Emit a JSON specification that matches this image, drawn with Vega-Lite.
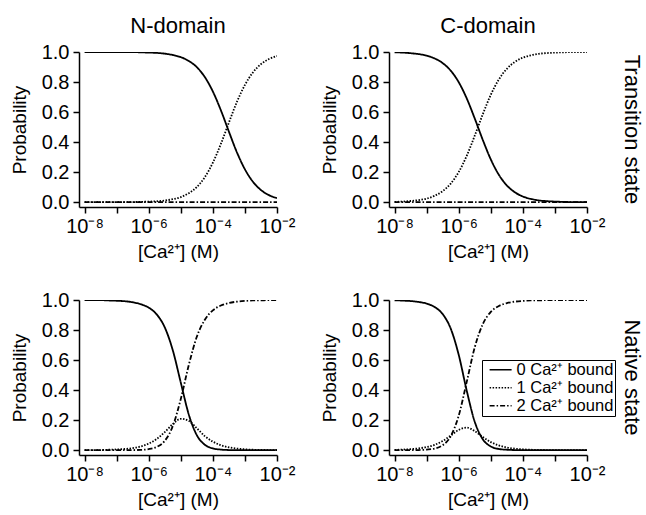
{
  "$schema": "https://vega.github.io/schema/vega-lite/v6.json",
  "background": "white",
  "padding": {"left": 10, "top": 15, "right": 2, "bottom": 2},
  "bounds": "flush",
  "spacing": {"row": 93, "column": 112},
  "data": {"values": [
    {"s":"Transition state","d":"N-domain","k":"0","x":1e-8,"p":1.000},
    {"s":"Transition state","d":"N-domain","k":"0","x":1.778e-8,"p":1.000},
    {"s":"Transition state","d":"N-domain","k":"0","x":3.162e-8,"p":1.000},
    {"s":"Transition state","d":"N-domain","k":"0","x":5.623e-8,"p":1.000},
    {"s":"Transition state","d":"N-domain","k":"0","x":1e-7,"p":1.000},
    {"s":"Transition state","d":"N-domain","k":"0","x":1.778e-7,"p":0.999},
    {"s":"Transition state","d":"N-domain","k":"0","x":3.162e-7,"p":0.999},
    {"s":"Transition state","d":"N-domain","k":"0","x":5.623e-7,"p":0.998},
    {"s":"Transition state","d":"N-domain","k":"0","x":1e-6,"p":0.996},
    {"s":"Transition state","d":"N-domain","k":"0","x":1.778e-6,"p":0.994},
    {"s":"Transition state","d":"N-domain","k":"0","x":3.162e-6,"p":0.989},
    {"s":"Transition state","d":"N-domain","k":"0","x":5.623e-6,"p":0.980},
    {"s":"Transition state","d":"N-domain","k":"0","x":1e-5,"p":0.966},
    {"s":"Transition state","d":"N-domain","k":"0","x":1.778e-5,"p":0.940},
    {"s":"Transition state","d":"N-domain","k":"0","x":3.162e-5,"p":0.899},
    {"s":"Transition state","d":"N-domain","k":"0","x":5.623e-5,"p":0.833},
    {"s":"Transition state","d":"N-domain","k":"0","x":1e-4,"p":0.737},
    {"s":"Transition state","d":"N-domain","k":"0","x":1.778e-4,"p":0.612},
    {"s":"Transition state","d":"N-domain","k":"0","x":3.162e-4,"p":0.470},
    {"s":"Transition state","d":"N-domain","k":"0","x":5.623e-4,"p":0.332},
    {"s":"Transition state","d":"N-domain","k":"0","x":1e-3,"p":0.219},
    {"s":"Transition state","d":"N-domain","k":"0","x":1.778e-3,"p":0.136},
    {"s":"Transition state","d":"N-domain","k":"0","x":3.162e-3,"p":0.081},
    {"s":"Transition state","d":"N-domain","k":"0","x":5.623e-3,"p":0.047},
    {"s":"Transition state","d":"N-domain","k":"0","x":1e-2,"p":0.027},

    {"s":"Transition state","d":"N-domain","k":"1","x":1e-8,"p":0.000},
    {"s":"Transition state","d":"N-domain","k":"1","x":1.778e-8,"p":0.000},
    {"s":"Transition state","d":"N-domain","k":"1","x":3.162e-8,"p":0.000},
    {"s":"Transition state","d":"N-domain","k":"1","x":5.623e-8,"p":0.000},
    {"s":"Transition state","d":"N-domain","k":"1","x":1e-7,"p":0.000},
    {"s":"Transition state","d":"N-domain","k":"1","x":1.778e-7,"p":0.001},
    {"s":"Transition state","d":"N-domain","k":"1","x":3.162e-7,"p":0.001},
    {"s":"Transition state","d":"N-domain","k":"1","x":5.623e-7,"p":0.002},
    {"s":"Transition state","d":"N-domain","k":"1","x":1e-6,"p":0.004},
    {"s":"Transition state","d":"N-domain","k":"1","x":1.778e-6,"p":0.006},
    {"s":"Transition state","d":"N-domain","k":"1","x":3.162e-6,"p":0.011},
    {"s":"Transition state","d":"N-domain","k":"1","x":5.623e-6,"p":0.020},
    {"s":"Transition state","d":"N-domain","k":"1","x":1e-5,"p":0.034},
    {"s":"Transition state","d":"N-domain","k":"1","x":1.778e-5,"p":0.060},
    {"s":"Transition state","d":"N-domain","k":"1","x":3.162e-5,"p":0.101},
    {"s":"Transition state","d":"N-domain","k":"1","x":5.623e-5,"p":0.167},
    {"s":"Transition state","d":"N-domain","k":"1","x":1e-4,"p":0.263},
    {"s":"Transition state","d":"N-domain","k":"1","x":1.778e-4,"p":0.388},
    {"s":"Transition state","d":"N-domain","k":"1","x":3.162e-4,"p":0.530},
    {"s":"Transition state","d":"N-domain","k":"1","x":5.623e-4,"p":0.668},
    {"s":"Transition state","d":"N-domain","k":"1","x":1e-3,"p":0.781},
    {"s":"Transition state","d":"N-domain","k":"1","x":1.778e-3,"p":0.864},
    {"s":"Transition state","d":"N-domain","k":"1","x":3.162e-3,"p":0.919},
    {"s":"Transition state","d":"N-domain","k":"1","x":5.623e-3,"p":0.953},
    {"s":"Transition state","d":"N-domain","k":"1","x":1e-2,"p":0.973},

    {"s":"Transition state","d":"N-domain","k":"2","x":1e-8,"p":0.000},
    {"s":"Transition state","d":"N-domain","k":"2","x":1e-5,"p":0.000},
    {"s":"Transition state","d":"N-domain","k":"2","x":1e-2,"p":0.000},

    {"s":"Transition state","d":"C-domain","k":"0","x":1e-8,"p":0.998},
    {"s":"Transition state","d":"C-domain","k":"0","x":1.778e-8,"p":0.996},
    {"s":"Transition state","d":"C-domain","k":"0","x":3.162e-8,"p":0.992},
    {"s":"Transition state","d":"C-domain","k":"0","x":5.623e-8,"p":0.986},
    {"s":"Transition state","d":"C-domain","k":"0","x":1e-7,"p":0.976},
    {"s":"Transition state","d":"C-domain","k":"0","x":1.778e-7,"p":0.957},
    {"s":"Transition state","d":"C-domain","k":"0","x":3.162e-7,"p":0.926},
    {"s":"Transition state","d":"C-domain","k":"0","x":5.623e-7,"p":0.876},
    {"s":"Transition state","d":"C-domain","k":"0","x":1e-6,"p":0.799},
    {"s":"Transition state","d":"C-domain","k":"0","x":1.778e-6,"p":0.691},
    {"s":"Transition state","d":"C-domain","k":"0","x":3.162e-6,"p":0.557},
    {"s":"Transition state","d":"C-domain","k":"0","x":5.623e-6,"p":0.415},
    {"s":"Transition state","d":"C-domain","k":"0","x":1e-5,"p":0.285},
    {"s":"Transition state","d":"C-domain","k":"0","x":1.778e-5,"p":0.183},
    {"s":"Transition state","d":"C-domain","k":"0","x":3.162e-5,"p":0.112},
    {"s":"Transition state","d":"C-domain","k":"0","x":5.623e-5,"p":0.066},
    {"s":"Transition state","d":"C-domain","k":"0","x":1e-4,"p":0.038},
    {"s":"Transition state","d":"C-domain","k":"0","x":1.778e-4,"p":0.022},
    {"s":"Transition state","d":"C-domain","k":"0","x":3.162e-4,"p":0.012},
    {"s":"Transition state","d":"C-domain","k":"0","x":5.623e-4,"p":0.007},
    {"s":"Transition state","d":"C-domain","k":"0","x":1e-3,"p":0.004},
    {"s":"Transition state","d":"C-domain","k":"0","x":1.778e-3,"p":0.002},
    {"s":"Transition state","d":"C-domain","k":"0","x":3.162e-3,"p":0.001},
    {"s":"Transition state","d":"C-domain","k":"0","x":5.623e-3,"p":0.001},
    {"s":"Transition state","d":"C-domain","k":"0","x":1e-2,"p":0.000},

    {"s":"Transition state","d":"C-domain","k":"1","x":1e-8,"p":0.002},
    {"s":"Transition state","d":"C-domain","k":"1","x":1.778e-8,"p":0.004},
    {"s":"Transition state","d":"C-domain","k":"1","x":3.162e-8,"p":0.008},
    {"s":"Transition state","d":"C-domain","k":"1","x":5.623e-8,"p":0.014},
    {"s":"Transition state","d":"C-domain","k":"1","x":1e-7,"p":0.024},
    {"s":"Transition state","d":"C-domain","k":"1","x":1.778e-7,"p":0.043},
    {"s":"Transition state","d":"C-domain","k":"1","x":3.162e-7,"p":0.074},
    {"s":"Transition state","d":"C-domain","k":"1","x":5.623e-7,"p":0.124},
    {"s":"Transition state","d":"C-domain","k":"1","x":1e-6,"p":0.201},
    {"s":"Transition state","d":"C-domain","k":"1","x":1.778e-6,"p":0.309},
    {"s":"Transition state","d":"C-domain","k":"1","x":3.162e-6,"p":0.443},
    {"s":"Transition state","d":"C-domain","k":"1","x":5.623e-6,"p":0.585},
    {"s":"Transition state","d":"C-domain","k":"1","x":1e-5,"p":0.715},
    {"s":"Transition state","d":"C-domain","k":"1","x":1.778e-5,"p":0.817},
    {"s":"Transition state","d":"C-domain","k":"1","x":3.162e-5,"p":0.888},
    {"s":"Transition state","d":"C-domain","k":"1","x":5.623e-5,"p":0.934},
    {"s":"Transition state","d":"C-domain","k":"1","x":1e-4,"p":0.962},
    {"s":"Transition state","d":"C-domain","k":"1","x":1.778e-4,"p":0.978},
    {"s":"Transition state","d":"C-domain","k":"1","x":3.162e-4,"p":0.988},
    {"s":"Transition state","d":"C-domain","k":"1","x":5.623e-4,"p":0.993},
    {"s":"Transition state","d":"C-domain","k":"1","x":1e-3,"p":0.996},
    {"s":"Transition state","d":"C-domain","k":"1","x":1.778e-3,"p":0.998},
    {"s":"Transition state","d":"C-domain","k":"1","x":3.162e-3,"p":0.999},
    {"s":"Transition state","d":"C-domain","k":"1","x":5.623e-3,"p":0.999},
    {"s":"Transition state","d":"C-domain","k":"1","x":1e-2,"p":1.000},

    {"s":"Transition state","d":"C-domain","k":"2","x":1e-8,"p":0.000},
    {"s":"Transition state","d":"C-domain","k":"2","x":1e-5,"p":0.000},
    {"s":"Transition state","d":"C-domain","k":"2","x":1e-2,"p":0.000},

    {"s":"Native state","d":"N-domain","k":"0","x":1e-8,"p":1.000},
    {"s":"Native state","d":"N-domain","k":"0","x":1.778e-8,"p":0.999},
    {"s":"Native state","d":"N-domain","k":"0","x":3.162e-8,"p":0.999},
    {"s":"Native state","d":"N-domain","k":"0","x":5.623e-8,"p":0.997},
    {"s":"Native state","d":"N-domain","k":"0","x":1e-7,"p":0.995},
    {"s":"Native state","d":"N-domain","k":"0","x":1.778e-7,"p":0.992},
    {"s":"Native state","d":"N-domain","k":"0","x":3.162e-7,"p":0.985},
    {"s":"Native state","d":"N-domain","k":"0","x":5.623e-7,"p":0.972},
    {"s":"Native state","d":"N-domain","k":"0","x":1e-6,"p":0.949},
    {"s":"Native state","d":"N-domain","k":"0","x":1.778e-6,"p":0.904},
    {"s":"Native state","d":"N-domain","k":"0","x":3.162e-6,"p":0.818},
    {"s":"Native state","d":"N-domain","k":"0","x":5.623e-6,"p":0.666},
    {"s":"Native state","d":"N-domain","k":"0","x":1e-5,"p":0.450},
    {"s":"Native state","d":"N-domain","k":"0","x":1.778e-5,"p":0.237},
    {"s":"Native state","d":"N-domain","k":"0","x":3.162e-5,"p":0.100},
    {"s":"Native state","d":"N-domain","k":"0","x":5.623e-5,"p":0.036},
    {"s":"Native state","d":"N-domain","k":"0","x":1e-4,"p":0.012},
    {"s":"Native state","d":"N-domain","k":"0","x":1.778e-4,"p":0.004},
    {"s":"Native state","d":"N-domain","k":"0","x":3.162e-4,"p":0.001},
    {"s":"Native state","d":"N-domain","k":"0","x":5.623e-4,"p":0.000},
    {"s":"Native state","d":"N-domain","k":"0","x":1e-3,"p":0.000},
    {"s":"Native state","d":"N-domain","k":"0","x":1e-2,"p":0.000},

    {"s":"Native state","d":"N-domain","k":"1","x":1e-8,"p":0.000},
    {"s":"Native state","d":"N-domain","k":"1","x":1.778e-8,"p":0.001},
    {"s":"Native state","d":"N-domain","k":"1","x":3.162e-8,"p":0.001},
    {"s":"Native state","d":"N-domain","k":"1","x":5.623e-8,"p":0.003},
    {"s":"Native state","d":"N-domain","k":"1","x":1e-7,"p":0.005},
    {"s":"Native state","d":"N-domain","k":"1","x":1.778e-7,"p":0.008},
    {"s":"Native state","d":"N-domain","k":"1","x":3.162e-7,"p":0.014},
    {"s":"Native state","d":"N-domain","k":"1","x":5.623e-7,"p":0.025},
    {"s":"Native state","d":"N-domain","k":"1","x":1e-6,"p":0.044},
    {"s":"Native state","d":"N-domain","k":"1","x":1.778e-6,"p":0.075},
    {"s":"Native state","d":"N-domain","k":"1","x":3.162e-6,"p":0.120},
    {"s":"Native state","d":"N-domain","k":"1","x":5.623e-6,"p":0.174},
    {"s":"Native state","d":"N-domain","k":"1","x":1e-5,"p":0.209},
    {"s":"Native state","d":"N-domain","k":"1","x":1.778e-5,"p":0.195},
    {"s":"Native state","d":"N-domain","k":"1","x":3.162e-5,"p":0.146},
    {"s":"Native state","d":"N-domain","k":"1","x":5.623e-5,"p":0.094},
    {"s":"Native state","d":"N-domain","k":"1","x":1e-4,"p":0.057},
    {"s":"Native state","d":"N-domain","k":"1","x":1.778e-4,"p":0.033},
    {"s":"Native state","d":"N-domain","k":"1","x":3.162e-4,"p":0.019},
    {"s":"Native state","d":"N-domain","k":"1","x":5.623e-4,"p":0.011},
    {"s":"Native state","d":"N-domain","k":"1","x":1e-3,"p":0.006},
    {"s":"Native state","d":"N-domain","k":"1","x":1.778e-3,"p":0.003},
    {"s":"Native state","d":"N-domain","k":"1","x":3.162e-3,"p":0.002},
    {"s":"Native state","d":"N-domain","k":"1","x":5.623e-3,"p":0.001},
    {"s":"Native state","d":"N-domain","k":"1","x":1e-2,"p":0.001},

    {"s":"Native state","d":"N-domain","k":"2","x":1e-8,"p":0.000},
    {"s":"Native state","d":"N-domain","k":"2","x":1e-7,"p":0.000},
    {"s":"Native state","d":"N-domain","k":"2","x":1.778e-7,"p":0.000},
    {"s":"Native state","d":"N-domain","k":"2","x":3.162e-7,"p":0.001},
    {"s":"Native state","d":"N-domain","k":"2","x":5.623e-7,"p":0.002},
    {"s":"Native state","d":"N-domain","k":"2","x":1e-6,"p":0.007},
    {"s":"Native state","d":"N-domain","k":"2","x":1.778e-6,"p":0.022},
    {"s":"Native state","d":"N-domain","k":"2","x":3.162e-6,"p":0.062},
    {"s":"Native state","d":"N-domain","k":"2","x":5.623e-6,"p":0.160},
    {"s":"Native state","d":"N-domain","k":"2","x":1e-5,"p":0.341},
    {"s":"Native state","d":"N-domain","k":"2","x":1.778e-5,"p":0.568},
    {"s":"Native state","d":"N-domain","k":"2","x":3.162e-5,"p":0.755},
    {"s":"Native state","d":"N-domain","k":"2","x":5.623e-5,"p":0.869},
    {"s":"Native state","d":"N-domain","k":"2","x":1e-4,"p":0.931},
    {"s":"Native state","d":"N-domain","k":"2","x":1.778e-4,"p":0.963},
    {"s":"Native state","d":"N-domain","k":"2","x":3.162e-4,"p":0.980},
    {"s":"Native state","d":"N-domain","k":"2","x":5.623e-4,"p":0.989},
    {"s":"Native state","d":"N-domain","k":"2","x":1e-3,"p":0.994},
    {"s":"Native state","d":"N-domain","k":"2","x":1.778e-3,"p":0.997},
    {"s":"Native state","d":"N-domain","k":"2","x":3.162e-3,"p":0.998},
    {"s":"Native state","d":"N-domain","k":"2","x":5.623e-3,"p":0.999},
    {"s":"Native state","d":"N-domain","k":"2","x":1e-2,"p":0.999},

    {"s":"Native state","d":"C-domain","k":"0","x":1e-8,"p":0.998},
    {"s":"Native state","d":"C-domain","k":"0","x":1.778e-8,"p":0.996},
    {"s":"Native state","d":"C-domain","k":"0","x":3.162e-8,"p":0.993},
    {"s":"Native state","d":"C-domain","k":"0","x":5.623e-8,"p":0.987},
    {"s":"Native state","d":"C-domain","k":"0","x":1e-7,"p":0.976},
    {"s":"Native state","d":"C-domain","k":"0","x":1.778e-7,"p":0.953},
    {"s":"Native state","d":"C-domain","k":"0","x":3.162e-7,"p":0.906},
    {"s":"Native state","d":"C-domain","k":"0","x":5.623e-7,"p":0.810},
    {"s":"Native state","d":"C-domain","k":"0","x":1e-6,"p":0.635},
    {"s":"Native state","d":"C-domain","k":"0","x":1.778e-6,"p":0.396},
    {"s":"Native state","d":"C-domain","k":"0","x":3.162e-6,"p":0.189},
    {"s":"Native state","d":"C-domain","k":"0","x":5.623e-6,"p":0.073},
    {"s":"Native state","d":"C-domain","k":"0","x":1e-5,"p":0.025},
    {"s":"Native state","d":"C-domain","k":"0","x":1.778e-5,"p":0.008},
    {"s":"Native state","d":"C-domain","k":"0","x":3.162e-5,"p":0.003},
    {"s":"Native state","d":"C-domain","k":"0","x":5.623e-5,"p":0.001},
    {"s":"Native state","d":"C-domain","k":"0","x":1e-4,"p":0.000},
    {"s":"Native state","d":"C-domain","k":"0","x":1e-3,"p":0.000},
    {"s":"Native state","d":"C-domain","k":"0","x":1e-2,"p":0.000},

    {"s":"Native state","d":"C-domain","k":"1","x":1e-8,"p":0.002},
    {"s":"Native state","d":"C-domain","k":"1","x":1.778e-8,"p":0.004},
    {"s":"Native state","d":"C-domain","k":"1","x":3.162e-8,"p":0.007},
    {"s":"Native state","d":"C-domain","k":"1","x":5.623e-8,"p":0.012},
    {"s":"Native state","d":"C-domain","k":"1","x":1e-7,"p":0.021},
    {"s":"Native state","d":"C-domain","k":"1","x":1.778e-7,"p":0.036},
    {"s":"Native state","d":"C-domain","k":"1","x":3.162e-7,"p":0.061},
    {"s":"Native state","d":"C-domain","k":"1","x":5.623e-7,"p":0.097},
    {"s":"Native state","d":"C-domain","k":"1","x":1e-6,"p":0.135},
    {"s":"Native state","d":"C-domain","k":"1","x":1.778e-6,"p":0.150},
    {"s":"Native state","d":"C-domain","k":"1","x":3.162e-6,"p":0.127},
    {"s":"Native state","d":"C-domain","k":"1","x":5.623e-6,"p":0.088},
    {"s":"Native state","d":"C-domain","k":"1","x":1e-5,"p":0.054},
    {"s":"Native state","d":"C-domain","k":"1","x":1.778e-5,"p":0.032},
    {"s":"Native state","d":"C-domain","k":"1","x":3.162e-5,"p":0.018},
    {"s":"Native state","d":"C-domain","k":"1","x":5.623e-5,"p":0.010},
    {"s":"Native state","d":"C-domain","k":"1","x":1e-4,"p":0.006},
    {"s":"Native state","d":"C-domain","k":"1","x":1.778e-4,"p":0.003},
    {"s":"Native state","d":"C-domain","k":"1","x":3.162e-4,"p":0.002},
    {"s":"Native state","d":"C-domain","k":"1","x":5.623e-4,"p":0.001},
    {"s":"Native state","d":"C-domain","k":"1","x":1e-3,"p":0.001},
    {"s":"Native state","d":"C-domain","k":"1","x":1.778e-3,"p":0.000},
    {"s":"Native state","d":"C-domain","k":"1","x":1e-2,"p":0.000},

    {"s":"Native state","d":"C-domain","k":"2","x":1e-8,"p":0.000},
    {"s":"Native state","d":"C-domain","k":"2","x":3.162e-8,"p":0.000},
    {"s":"Native state","d":"C-domain","k":"2","x":5.623e-8,"p":0.001},
    {"s":"Native state","d":"C-domain","k":"2","x":1e-7,"p":0.004},
    {"s":"Native state","d":"C-domain","k":"2","x":1.778e-7,"p":0.011},
    {"s":"Native state","d":"C-domain","k":"2","x":3.162e-7,"p":0.033},
    {"s":"Native state","d":"C-domain","k":"2","x":5.623e-7,"p":0.093},
    {"s":"Native state","d":"C-domain","k":"2","x":1e-6,"p":0.230},
    {"s":"Native state","d":"C-domain","k":"2","x":1.778e-6,"p":0.455},
    {"s":"Native state","d":"C-domain","k":"2","x":3.162e-6,"p":0.685},
    {"s":"Native state","d":"C-domain","k":"2","x":5.623e-6,"p":0.839},
    {"s":"Native state","d":"C-domain","k":"2","x":1e-5,"p":0.921},
    {"s":"Native state","d":"C-domain","k":"2","x":1.778e-5,"p":0.960},
    {"s":"Native state","d":"C-domain","k":"2","x":3.162e-5,"p":0.979},
    {"s":"Native state","d":"C-domain","k":"2","x":5.623e-5,"p":0.989},
    {"s":"Native state","d":"C-domain","k":"2","x":1e-4,"p":0.994},
    {"s":"Native state","d":"C-domain","k":"2","x":1.778e-4,"p":0.997},
    {"s":"Native state","d":"C-domain","k":"2","x":3.162e-4,"p":0.998},
    {"s":"Native state","d":"C-domain","k":"2","x":5.623e-4,"p":0.999},
    {"s":"Native state","d":"C-domain","k":"2","x":1e-3,"p":0.999},
    {"s":"Native state","d":"C-domain","k":"2","x":1.778e-3,"p":1.000},
    {"s":"Native state","d":"C-domain","k":"2","x":1e-2,"p":1.000}
  ]},
  "facet": {
    "row": {"field": "s", "type": "nominal", "sort": ["Transition state", "Native state"],
      "header": {"title": null, "labelOrient": "right", "labelAngle": 90, "labelFont": "Liberation Sans", "labelFontSize": 22, "labelColor": "black", "labelPadding": 33}},
    "column": {"field": "d", "type": "nominal", "sort": ["N-domain", "C-domain"],
      "header": {"title": null, "labelOrient": "top", "labelFont": "Liberation Sans", "labelFontSize": 22, "labelColor": "black", "labelPadding": 14}}
  },
  "resolve": {"axis": {"x": "independent", "y": "independent"}},
  "spec": {
    "width": 198,
    "height": 155,
    "mark": {"type": "line", "color": "black", "strokeWidth": 1.8, "interpolate": "monotone", "clip": true},
    "encoding": {
      "x": {"field": "x", "type": "quantitative",
        "scale": {"type": "log", "domain": [6.7e-9, 0.01], "nice": false},
        "axis": {"title": "[Ca²⁺] (M)", "values": [1e-8, 1e-7, 1e-6, 1e-5, 1e-4, 1e-3, 1e-2],
          "labelExpr": "round(log(datum.value)/LN10) == -8 ? '10⁻⁸' : round(log(datum.value)/LN10) == -6 ? '10⁻⁶' : round(log(datum.value)/LN10) == -4 ? '10⁻⁴' : round(log(datum.value)/LN10) == -2 ? '10⁻²' : ''",
          "labelFlush": false, "labelOverlap": false, "labelPadding": 3, "titlePadding": 6}},
      "y": {"field": "p", "type": "quantitative",
        "scale": {"domain": [-0.032, 1], "nice": false, "zero": false},
        "axis": {"title": "Probability", "values": [0, 0.2, 0.4, 0.6, 0.8, 1], "format": ".1f", "labelFlush": false, "labelPadding": 4, "titlePadding": 12}},
      "strokeDash": {"field": "k", "type": "nominal",
        "scale": {"domain": ["0", "1", "2"], "range": [[1, 0], [1.5, 1.5], [5, 2, 1.5, 2]]},
        "legend": {"orient": "none", "legendX": 403, "legendY": 308, "title": null,
          "strokeColor": "black", "fillColor": "white", "padding": 1, "symbolType": "M-0.3,0H3.7",
          "symbolSize": 121, "symbolStrokeWidth": 1.5, "symbolStrokeColor": "black",
          "labelFont": "Liberation Sans", "labelFontSize": 16.5, "labelColor": "black",
          "labelExpr": "datum.label + ' Ca²⁺ bound\u00a0\u00a0'", "rowPadding": 0, "clipHeight": 17.5, "labelOffset": 17}}
    }
  },
  "config": {
    "view": {"stroke": null},
    "axis": {"domainColor": "black", "domainWidth": 1.5, "tickColor": "black", "tickWidth": 1.5, "tickSize": 6,
      "labelFont": "Liberation Sans", "labelFontSize": 20, "labelColor": "black",
      "titleFont": "Liberation Sans", "titleFontSize": 19, "titleFontWeight": "normal", "titleColor": "black", "grid": false}
  }
}
